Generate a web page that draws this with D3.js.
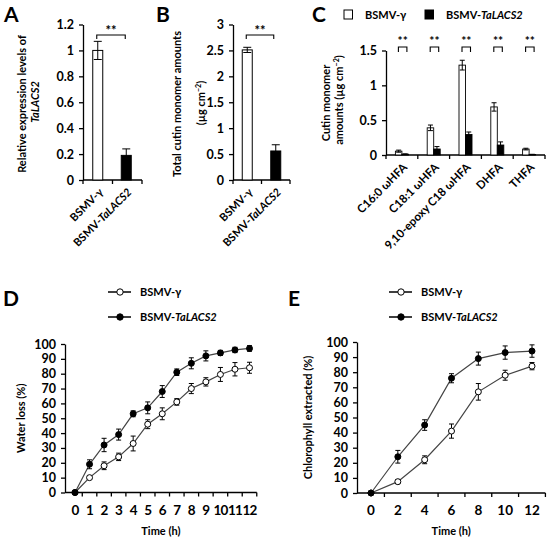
<!DOCTYPE html>
<html>
<head>
<meta charset="utf-8">
<script src="https://cdn.jsdelivr.net/npm/d3@7"></script>
<style>
  body { margin: 0; background: #fff; }
  svg text { font-family: Lato, "Open Sans", sans-serif; font-weight: bold; fill: #000; }
  .axis path, .axis line { stroke: #000; stroke-width: 1.3; }
</style>
</head>
<body>
<svg id="fig" width="550" height="542"></svg>
<script>
/* ------------------------------
   DATA
------------------------------ */

const groups = ["BSMV-γ", "BSMV-TaLACS2"];

// A: relative expression of TaLACS2
const exprLevels = [1.0, 0.19];
const exprErr = [0.07, 0.05];

// B: total cutin monomer amounts (µg cm-2)
const cutinTotal = [2.51, 0.56];
const cutinTotalErr = [0.05, 0.12];

// C: cutin monomer amounts per monomer
const monomers = ["C16:0 ωHFA", "C18:1 ωHFA", "9,10-epoxy C18 ωHFA", "DHFA", "THFA"];
const monomerCtrl = [0.055, 0.39, 1.29, 0.69, 0.085];
const monomerCtrlErr = [0.015, 0.04, 0.07, 0.06, 0.012];
const monomerKd = [0.012, 0.086, 0.295, 0.143, 0.007];
const monomerKdErr = [0.004, 0.035, 0.035, 0.045, 0.003];

// D: water loss (%)
const waterHours = [0, 1, 2, 3, 4, 5, 6, 7, 8, 9, 10, 11, 12];
const waterCtrl = [0, 10, 18, 24, 33, 46, 53, 61, 70, 74.5, 79.5, 83, 84];
const waterCtrlErr = [0, 1.1, 2.6, 2.5, 5, 3, 4, 2.2, 3.4, 2.8, 4.7, 4.5, 3.7];
const waterKd = [0, 19, 32, 39, 53, 57, 68, 81, 87, 92, 94, 96, 97];
const waterKdErr = [0, 3, 4.5, 3.7, 2, 4, 4, 2.2, 3.7, 3.4, 1.7, 1.8, 1.9];

// E: chlorophyll extracted (%)
const chlHours = [0, 2, 4, 6, 8, 10, 12];
const chlCtrl = [0, 7.5, 22, 41, 67, 78, 84];
const chlCtrlErr = [0, 1.3, 2.6, 4.7, 5.5, 3.3, 2.4];
const chlKd = [0, 24, 45, 76, 89, 93, 94];
const chlKdErr = [0, 4.2, 3.5, 3, 4.3, 4.4, 4.1];

/* ------------------------------
   HELPERS
------------------------------ */

const svg = d3.select("#fig");
const fmt = d => String(+d.toFixed(1));

// "BSMV-TaLACS2" -> plain "BSMV-" + italic "TaLACS2"
function addLabel(sel, text) {
    const m = text.match(/^(.*?)(TaLACS2)$/);
    if (m) {
        sel.append("tspan").text(m[1]);
        sel.append("tspan").style("font-style", "italic").text(m[2]);
    } else {
        sel.text(text);
    }
    return sel;
}

function panelLetter(x, y, letter) {
    svg.append("text").attr("x", x).attr("y", y)
        .style("font-size", "21px").text(letter);
}

function styleAxis(g, size) {
    g.attr("class", "axis").attr("font-family", null).attr("font-size", null);
    g.selectAll("text").style("font-size", size + "px");
}

function yAxis(g, y, x, ticks, size) {
    const ax = g.append("g").attr("transform", `translate(${x},0)`)
        .call(d3.axisLeft(y).tickValues(ticks).tickSize(4).tickSizeOuter(0)
            .tickPadding(5).tickFormat(fmt));
    styleAxis(ax, size);
}

function categoryBase(g, x, baseY) {
    const r = x.range();
    const edges = x.domain().map(d => x(d)).concat([r[1]]);
    g.append("line").attr("x1", r[0]).attr("x2", r[1])
        .attr("y1", baseY).attr("y2", baseY)
        .attr("stroke", "#000").attr("stroke-width", 1.3);
    g.selectAll(null).data(edges).enter().append("line")
        .attr("x1", d => d).attr("x2", d => d)
        .attr("y1", baseY).attr("y2", baseY + 4)
        .attr("stroke", "#000").attr("stroke-width", 1.3);
}

function errorBar(g, cx, y, v, e, cap) {
    if (!e) return;
    const eg = g.append("g").attr("stroke", "#000").attr("stroke-width", 1);
    eg.append("line").attr("x1", cx).attr("x2", cx).attr("y1", y(v - e)).attr("y2", y(v + e));
    eg.append("line").attr("x1", cx - cap).attr("x2", cx + cap).attr("y1", y(v + e)).attr("y2", y(v + e));
    eg.append("line").attr("x1", cx - cap).attr("x2", cx + cap).attr("y1", y(v - e)).attr("y2", y(v - e));
}

function sigBracket(g, xa, xb, yTop, drop, starY, size) {
    g.append("path")
        .attr("d", `M${xa},${yTop + drop}V${yTop}H${xb}V${yTop + drop}`)
        .attr("fill", "none").attr("stroke", "#000").attr("stroke-width", 1.1);
    g.append("text").attr("x", (xa + xb) / 2).attr("y", starY)
        .attr("text-anchor", "middle").style("font-size", size + "px").text("**");
}

function rotatedYLabel(g, x, y, parts, size) {
    const t = g.append("text")
        .attr("transform", `translate(${x},${y}) rotate(-90)`)
        .attr("text-anchor", "middle").style("font-size", size + "px");
    parts.forEach(p => {
        const s = t.append("tspan").text(p.text);
        if (p.italic) s.style("font-style", "italic");
        if (p.sup) s.attr("baseline-shift", "super").style("font-size", (size * 0.65) + "px");
    });
}

/* ------------------------------
   A & B: TWO-BAR PANELS
------------------------------ */

function twoBarPanel(opt) {
    const g = svg.append("g");
    const x = d3.scaleBand().domain(groups).range(opt.xr);
    const y = d3.scaleLinear().domain([0, opt.max]).range([180, 24.5]);
    const bw = 10;

    yAxis(g, y, opt.xr[0], d3.range(0, opt.max + 1e-9, opt.step), 12.5);
    categoryBase(g, x, 180);

    groups.forEach((d, i) => {
        const cx = x(d) + x.bandwidth() / 2 + (opt.shift ? opt.shift[i] : 0);
        g.append("rect").attr("x", cx - bw / 2).attr("y", y(opt.vals[i]))
            .attr("width", bw).attr("height", y(0) - y(opt.vals[i]))
            .attr("fill", i === 0 ? "#fff" : "#000")
            .attr("stroke", "#000").attr("stroke-width", 1);
        errorBar(g, cx, y, opt.vals[i], opt.errs[i], 4);
        addLabel(g.append("text")
            .attr("transform", `translate(${cx + 6},${193}) rotate(-45)`)
            .attr("text-anchor", "end").style("font-size", "11px"), d);
    });

    const c0 = x(groups[0]) + x.bandwidth() / 2, c1 = x(groups[1]) + x.bandwidth() / 2;
    sigBracket(g, c0 - 1, c1 - 2, 35, 4, 35, 13);
    return g;
}

const gA = twoBarPanel({ xr: [83, 142], max: 1.2, step: 0.2, vals: exprLevels, errs: exprErr, shift: [0, -1] });
rotatedYLabel(gA, 26, 104, [{ text: "Relative expression levels of" }], 11);
rotatedYLabel(gA, 39, 102, [{ text: "TaLACS2", italic: true }], 11);
panelLetter(4, 22, "A");

const gB = twoBarPanel({ xr: [233, 290], max: 3, step: 0.5, vals: cutinTotal, errs: cutinTotalErr });
rotatedYLabel(gB, 181, 104, [{ text: "Total cutin monomer amounts" }], 11);
rotatedYLabel(gB, 205, 103, [{ text: "(µg cm" }, { text: "−2", sup: true }, { text: ")" }], 11);
panelLetter(156, 22, "B");

/* ------------------------------
   C: CUTIN MONOMERS
------------------------------ */

(function () {
    const g = svg.append("g");
    const x = d3.scaleBand().domain(monomers).range([386, 545]);
    const y = d3.scaleLinear().domain([0, 1.5]).range([155, 50.5]);
    const bw = 6.5;

    yAxis(g, y, 386, [0, 0.5, 1, 1.5], 12.5);
    categoryBase(g, x, 155);

    monomers.forEach((d, i) => {
        const c = x(d) + x.bandwidth() / 2;
        [[monomerCtrl, monomerCtrlErr, "#fff", c - bw / 2],
         [monomerKd, monomerKdErr, "#000", c + bw / 2]].forEach(s => {
            const v = s[0][i];
            g.append("rect").attr("x", s[3] - bw / 2).attr("y", y(v))
                .attr("width", bw).attr("height", y(0) - y(v))
                .attr("fill", s[2]).attr("stroke", "#000").attr("stroke-width", 0.9);
            errorBar(g, s[3], y, v, s[1][i], 2.5);
        });
        sigBracket(g, c - 3.5, c + 5, 47, 5, 45, 12);
        g.append("text")
            .attr("transform", `translate(${c + 6},${168}) rotate(-45)`)
            .attr("text-anchor", "end").style("font-size", "11.5px").text(d);
    });

    rotatedYLabel(g, 330, 103, [{ text: "Cutin monomer" }], 11);
    rotatedYLabel(g, 343, 100, [{ text: "amounts (µg cm" }, { text: "−2", sup: true }, { text: ")" }], 11);

    // legend
    g.append("rect").attr("x", 344).attr("y", 10).attr("width", 8.5).attr("height", 9)
        .attr("fill", "#fff").attr("stroke", "#000");
    g.append("text").attr("x", 365).attr("y", 19).style("font-size", "11px").text("BSMV-γ");
    g.append("rect").attr("x", 425).attr("y", 10).attr("width", 8.5).attr("height", 9)
        .attr("fill", "#000").attr("stroke", "#000");
    addLabel(g.append("text").attr("x", 446).attr("y", 19).style("font-size", "11px"), "BSMV-TaLACS2");
    panelLetter(312, 22, "C");
})();

/* ------------------------------
   D & E: TIME COURSES
------------------------------ */

function timePanel(opt) {
    const g = svg.append("g");
    const x = d3.scaleLinear().domain([0, 12]).range(opt.xr);
    const y = d3.scaleLinear().domain([0, 100]).range(opt.yr);
    const step = x(opt.hours[1]) - x(opt.hours[0]);
    const x0 = opt.axisX, x1 = x(12) + step / 2;

    yAxis(g, y, x0, d3.range(0, 101, 10), 12.5);

    // x axis: line, ticks between points, labels at points
    g.append("line").attr("x1", x0).attr("x2", x1).attr("y1", y(0)).attr("y2", y(0))
        .attr("stroke", "#000").attr("stroke-width", 1.3);
    g.selectAll(null).data(opt.hours).enter().append("line")
        .attr("x1", d => x(d) + step / 2).attr("x2", d => x(d) + step / 2)
        .attr("y1", y(0)).attr("y2", y(0) + 4)
        .attr("stroke", "#000").attr("stroke-width", 1.3);
    g.selectAll(null).data(opt.hours).enter().append("text")
        .attr("x", d => x(d)).attr("y", y(0) + 22)
        .attr("text-anchor", "middle").style("font-size", "13.5px")
        .style("letter-spacing", opt.tight ? "-0.8px" : null).text(d => d);

    const line = d3.line().x((d, i) => x(opt.hours[i])).y(d => y(d));
    [[opt.ctrl, opt.ctrlErr, "#fff"], [opt.kd, opt.kdErr, "#000"]].forEach(s => {
        g.append("path").datum(s[0]).attr("d", line)
            .attr("fill", "none").attr("stroke", "#444").attr("stroke-width", 1.2);
        s[0].forEach((v, i) => errorBar(g, x(opt.hours[i]), y, v, s[1][i], 2.5));
        g.selectAll(null).data(s[0]).enter().append("circle")
            .attr("cx", (d, i) => x(opt.hours[i])).attr("cy", d => y(d)).attr("r", 3)
            .attr("fill", s[2]).attr("stroke", "#000").attr("stroke-width", 1);
    });

    g.append("text").attr("x", (x0 + x1) / 2).attr("y", y(0) + 42)
        .attr("text-anchor", "middle").style("font-size", "11px").text("Time (h)");
    rotatedYLabel(g, opt.ylabX, (y(0) + y(100)) / 2, [{ text: opt.ylab }], 11);

    // legend
    [["BSMV-γ", "#fff", 292], ["BSMV-TaLACS2", "#000", 317]].forEach(l => {
        g.append("line").attr("x1", opt.legX).attr("x2", opt.legX + 23)
            .attr("y1", l[2]).attr("y2", l[2]).attr("stroke", "#000").attr("stroke-width", 1.5);
        g.append("circle").attr("cx", opt.legX + 12).attr("cy", l[2]).attr("r", 3.2)
            .attr("fill", l[1]).attr("stroke", "#000").attr("stroke-width", 1);
        addLabel(g.append("text").attr("x", opt.legX + 32).attr("y", l[2] + 4)
            .style("font-size", "11px"), l[0]);
    });
    return g;
}

timePanel({
    hours: waterHours, ctrl: waterCtrl, ctrlErr: waterCtrlErr, kd: waterKd, kdErr: waterKdErr,
    xr: [75, 249.5], yr: [492.5, 344], axisX: 65, ylab: "Water loss (%)", ylabX: 25, legX: 108,
    tight: true
});
panelLetter(3, 306, "D");

timePanel({
    hours: chlHours, ctrl: chlCtrl, ctrlErr: chlCtrlErr, kd: chlKd, kdErr: chlKdErr,
    xr: [371, 532], yr: [493, 342], axisX: 357, ylab: "Chlorophyll extracted (%)", ylabX: 312, legX: 389
});
panelLetter(288, 306, "E");
</script>
</body>
</html>
